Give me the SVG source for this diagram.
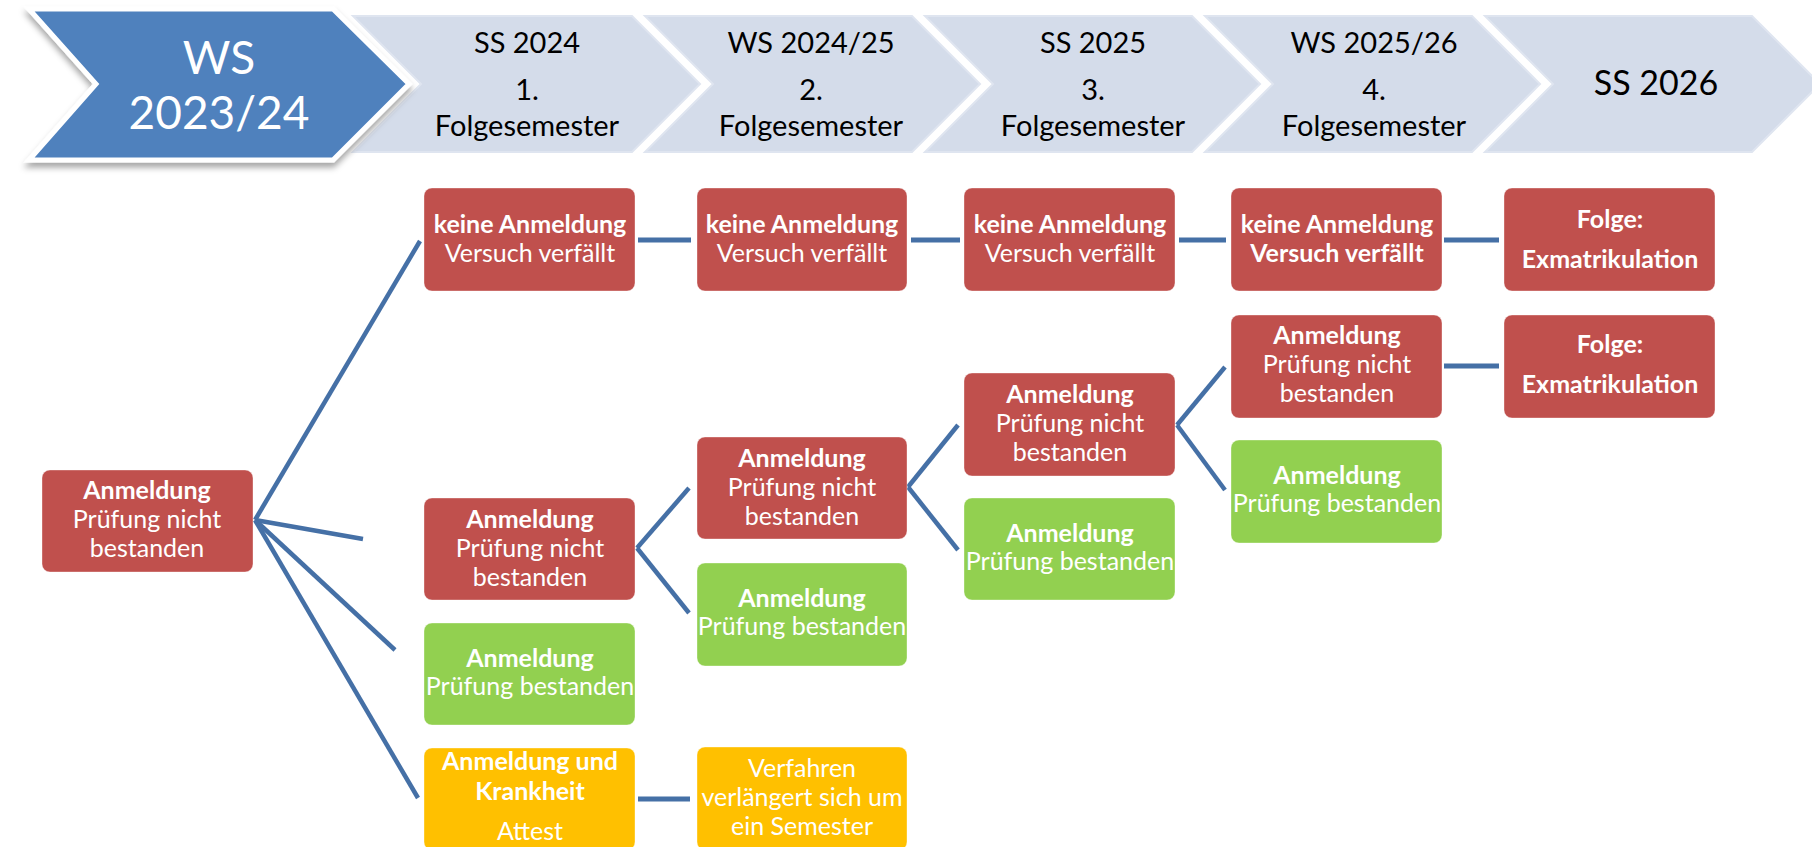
<svg xmlns="http://www.w3.org/2000/svg" width="1812" height="847" viewBox="0 0 1812 847">
<style>
text{font-family:Lato,"Liberation Sans",sans-serif;text-anchor:middle}
.chev{fill:#d4dcea;stroke:#dfe5f0;stroke-width:2}
.ht{fill:#000;font-size:29px}
.big{fill:#000;font-size:34px}
.bt{fill:#fff;font-size:46px}
.box{stroke:#ffffff;stroke-opacity:0.35;stroke-width:1}
.red{fill:#c0504d}
.green{fill:#92d050}
.yellow{fill:#ffc000}
.t{fill:#fff;font-size:25px}
.b{font-weight:bold}
.con line{stroke:#4570a6;stroke-width:4.5;stroke-linecap:butt}
.con line.h{stroke-width:5}
</style>
<defs>
<filter id="sh" x="-10%" y="-10%" width="125%" height="140%">
<feDropShadow dx="0" dy="5" stdDeviation="3" flood-color="#000" flood-opacity="0.35"/>
</filter>
</defs>
<rect width="1812" height="847" fill="#fff"/>
<g id="header">
<g id="chev5"><polygon class="chev" points="1485,16 1752,16 1820,84 1752,152 1485,152 1553,84"/><text class="big" x="1656" y="95">SS 2026</text></g>
<g id="chev4"><polygon class="chev" points="1205,16 1472,16 1540,84 1472,152 1205,152 1273,84"/><text class="ht" x="1374" y="53">WS 2025/26</text><text class="ht" x="1374" y="100">4.</text><text class="ht" x="1374" y="136">Folgesemester</text></g>
<g id="chev3"><polygon class="chev" points="925,16 1192,16 1260,84 1192,152 925,152 993,84"/><text class="ht" x="1093" y="53">SS 2025</text><text class="ht" x="1093" y="100">3.</text><text class="ht" x="1093" y="136">Folgesemester</text></g>
<g id="chev2"><polygon class="chev" points="645,16 912,16 980,84 912,152 645,152 713,84"/><text class="ht" x="811" y="53">WS 2024/25</text><text class="ht" x="811" y="100">2.</text><text class="ht" x="811" y="136">Folgesemester</text></g>
<g id="chev1"><polygon class="chev" points="353,16 632,16 700,84 632,152 353,152 421,84"/><text class="ht" x="527" y="53">SS 2024</text><text class="ht" x="527" y="100">1.</text><text class="ht" x="527" y="136">Folgesemester</text></g>
<g id="chev0"><polygon points="29,9 333,9 409,84 333,160 29,160 96,84" fill="#4f81bd" stroke="#fff" stroke-width="5" stroke-linejoin="miter" filter="url(#sh)"/><text class="bt" x="219" y="74">WS</text><text class="bt" x="219" y="129">2023/24</text></g>
</g>
<g id="connectors" class="con">
<line x1="255" y1="520" x2="420" y2="241"/>
<line x1="255" y1="520" x2="363" y2="539"/>
<line x1="255" y1="520" x2="395" y2="650"/>
<line x1="255" y1="520" x2="418" y2="798"/>
<line x1="637" y1="548" x2="689" y2="488"/>
<line x1="637" y1="548" x2="689" y2="613"/>
<line x1="908" y1="487" x2="958" y2="425"/>
<line x1="908" y1="487" x2="958" y2="550"/>
<line x1="1177" y1="425" x2="1225" y2="367"/>
<line x1="1177" y1="425" x2="1225" y2="490"/>
<line class="h" x1="638" y1="240" x2="691" y2="240"/>
<line class="h" x1="911" y1="240" x2="960" y2="240"/>
<line class="h" x1="1179" y1="240" x2="1226" y2="240"/>
<line class="h" x1="1444" y1="240" x2="1499" y2="240"/>
<line class="h" x1="1444" y1="366" x2="1499" y2="366"/>
<line class="h" x1="638" y1="799" x2="690" y2="799"/>
</g>
<g id="root"><rect class="box red" x="42" y="470" width="211" height="102" rx="8"/><text class="t b" x="147" y="499">Anmeldung</text><text class="t" x="147" y="528">Prüfung nicht</text><text class="t" x="147" y="557">bestanden</text></g>
<g id="k1"><rect class="box red" x="424" y="188" width="211" height="103" rx="8"/><text class="t b" x="530" y="233">keine Anmeldung</text><text class="t" x="530" y="262">Versuch verfällt</text></g>
<g id="k2"><rect class="box red" x="697" y="188" width="210" height="103" rx="8"/><text class="t b" x="802" y="233">keine Anmeldung</text><text class="t" x="802" y="262">Versuch verfällt</text></g>
<g id="k3"><rect class="box red" x="964" y="188" width="211" height="103" rx="8"/><text class="t b" x="1070" y="233">keine Anmeldung</text><text class="t" x="1070" y="262">Versuch verfällt</text></g>
<g id="k4"><rect class="box red" x="1231" y="188" width="211" height="103" rx="8"/><text class="t b" x="1337" y="233">keine Anmeldung</text><text class="t b" x="1337" y="262">Versuch verfällt</text></g>
<g id="f1"><rect class="box red" x="1504" y="188" width="211" height="103" rx="8"/><text class="t b" x="1610" y="228">Folge:</text><text class="t b" x="1610" y="268">Exmatrikulation</text></g>
<g id="f2"><rect class="box red" x="1504" y="315" width="211" height="103" rx="8"/><text class="t b" x="1610" y="353">Folge:</text><text class="t b" x="1610" y="393">Exmatrikulation</text></g>
<g id="n1"><rect class="box red" x="424" y="498" width="211" height="102" rx="8"/><text class="t b" x="530" y="528">Anmeldung</text><text class="t" x="530" y="557">Prüfung nicht</text><text class="t" x="530" y="586">bestanden</text></g>
<g id="g1"><rect class="box green" x="424" y="623" width="211" height="102" rx="8"/><text class="t b" x="530" y="667">Anmeldung</text><text class="t" x="530" y="695">Prüfung bestanden</text></g>
<g id="y1"><rect class="box yellow" x="424" y="748" width="211" height="102" rx="8"/><text class="t b" x="530" y="770">Anmeldung und</text><text class="t b" x="530" y="800">Krankheit</text><text class="t" x="530" y="840">Attest</text></g>
<g id="n2"><rect class="box red" x="697" y="437" width="210" height="102" rx="8"/><text class="t b" x="802" y="467">Anmeldung</text><text class="t" x="802" y="496">Prüfung nicht</text><text class="t" x="802" y="525">bestanden</text></g>
<g id="g2"><rect class="box green" x="697" y="563" width="210" height="103" rx="8"/><text class="t b" x="802" y="607">Anmeldung</text><text class="t" x="802" y="635">Prüfung bestanden</text></g>
<g id="y2"><rect class="box yellow" x="697" y="747" width="210" height="103" rx="8"/><text class="t" x="802" y="777">Verfahren</text><text class="t" x="802" y="806">verlängert sich um</text><text class="t" x="802" y="835">ein Semester</text></g>
<g id="n3"><rect class="box red" x="964" y="373" width="211" height="103" rx="8"/><text class="t b" x="1070" y="403">Anmeldung</text><text class="t" x="1070" y="432">Prüfung nicht</text><text class="t" x="1070" y="461">bestanden</text></g>
<g id="g3"><rect class="box green" x="964" y="498" width="211" height="102" rx="8"/><text class="t b" x="1070" y="542">Anmeldung</text><text class="t" x="1070" y="570">Prüfung bestanden</text></g>
<g id="n4"><rect class="box red" x="1231" y="315" width="211" height="103" rx="8"/><text class="t b" x="1337" y="344">Anmeldung</text><text class="t" x="1337" y="373">Prüfung nicht</text><text class="t" x="1337" y="402">bestanden</text></g>
<g id="g4"><rect class="box green" x="1231" y="440" width="211" height="103" rx="8"/><text class="t b" x="1337" y="484">Anmeldung</text><text class="t" x="1337" y="512">Prüfung bestanden</text></g>
</svg>
